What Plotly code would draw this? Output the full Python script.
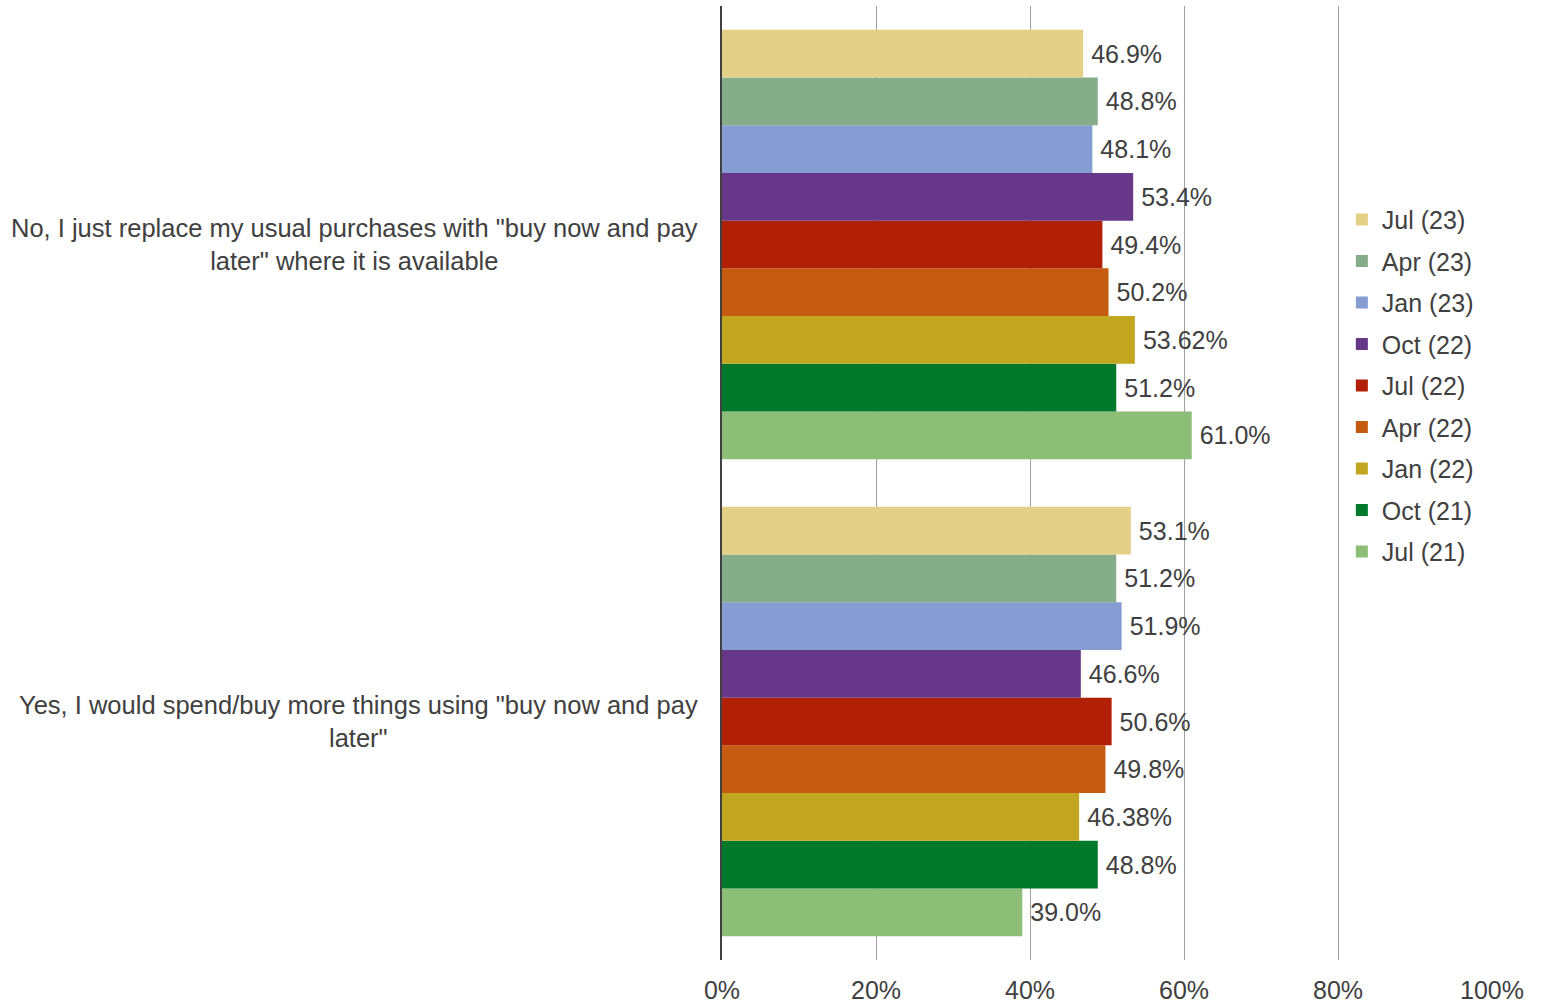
import plotly.graph_objects as go

# Survey answers (top to bottom on the chart)
categories = [
    'No, I just replace my usual purchases with "buy now and pay<br>later" where it is available',
    'Yes, I would spend/buy more things using "buy now and pay<br>later"',
]

# Survey waves, oldest first (drawn bottom-up inside each group)
waves = ["Jul (21)", "Oct (21)", "Jan (22)", "Apr (22)", "Jul (22)",
         "Oct (22)", "Jan (23)", "Apr (23)", "Jul (23)"]

# Share of respondents per wave: [No..., Yes...]
no_values = [61.0, 51.2, 53.62, 50.2, 49.4, 53.4, 48.1, 48.8, 46.9]
yes_values = [39.0, 48.8, 46.38, 49.8, 50.6, 46.6, 51.9, 51.2, 53.1]

# Decimal places shown in each wave's labels
decimals = [1, 1, 2, 1, 1, 1, 1, 1, 1]

colors = ["#8CBE78", "#00792A", "#C3A620", "#C55B10", "#B01F06",
          "#673789", "#869DD4", "#86AD8A", "#E4CF87"]

tick_vals = [0, 20, 40, 60, 80, 100]
tick_text = ["0%", "20%", "40%", "60%", "80%", "100%"]

FONT = "Liberation Sans, Arial, sans-serif"
FONT_SIZE = 25
TEXT_COLOR = "#404040"

# Category order on the axis: bottom first, so "No" sits on top
axis_order = [categories[1], categories[0]]

fig = go.Figure()
n = len(waves)
for i, wave in enumerate(waves):
    vals = [no_values[i], yes_values[i]]
    fig.add_trace(go.Bar(
        y=categories,
        x=vals,
        orientation="h",
        name=wave,
        legendgroup=wave,
        legendrank=n - i,  # newest wave listed first
        marker=dict(color=colors[i], line=dict(width=0)),
        text=[f"\u2009{v:.{decimals[i]}f}%" for v in vals],
        textposition="outside",
        textfont=dict(family=FONT, size=FONT_SIZE, color=TEXT_COLOR),
        cliponaxis=False,
    ))

# Centered, wrapped category labels left of the axis
for cat in categories:
    fig.add_annotation(
        x=0, xref="paper", xanchor="right", xshift=-22,
        y=cat, yref="y",
        text=cat, showarrow=False, align="center",
        font=dict(family=FONT, size=25.5, color=TEXT_COLOR),
    )

fig.update_layout(
    width=1543, height=1008,
    margin=dict(l=722, r=51, t=6, b=48, autoexpand=False),
    paper_bgcolor="white", plot_bgcolor="white",
    barmode="group", bargap=0.1, bargroupgap=0,
    font=dict(family=FONT, size=FONT_SIZE, color=TEXT_COLOR),
    legend=dict(
        x=0.805, y=0.80, xanchor="left", yanchor="top",
        traceorder="grouped", tracegroupgap=6,
        font=dict(family=FONT, size=FONT_SIZE, color=TEXT_COLOR),
        bgcolor="rgba(0,0,0,0)",
    ),
    xaxis=dict(
        range=[0, 100], tickvals=tick_vals, ticktext=tick_text,
        showgrid=True, gridcolor="#A0A0A0", gridwidth=1,
        zeroline=False, showline=False, ticks="",
        ticklabelstandoff=13, automargin=False,
        tickfont=dict(family=FONT, size=FONT_SIZE, color=TEXT_COLOR),
        fixedrange=True,
    ),
    yaxis=dict(
        categoryorder="array", categoryarray=axis_order,
        showticklabels=False, showgrid=False, zeroline=False,
        showline=True, linecolor="#404040", linewidth=1.5,
        ticks="", fixedrange=True, automargin=False,
    ),
    showlegend=True,
)

fig.write_html("out.html")
